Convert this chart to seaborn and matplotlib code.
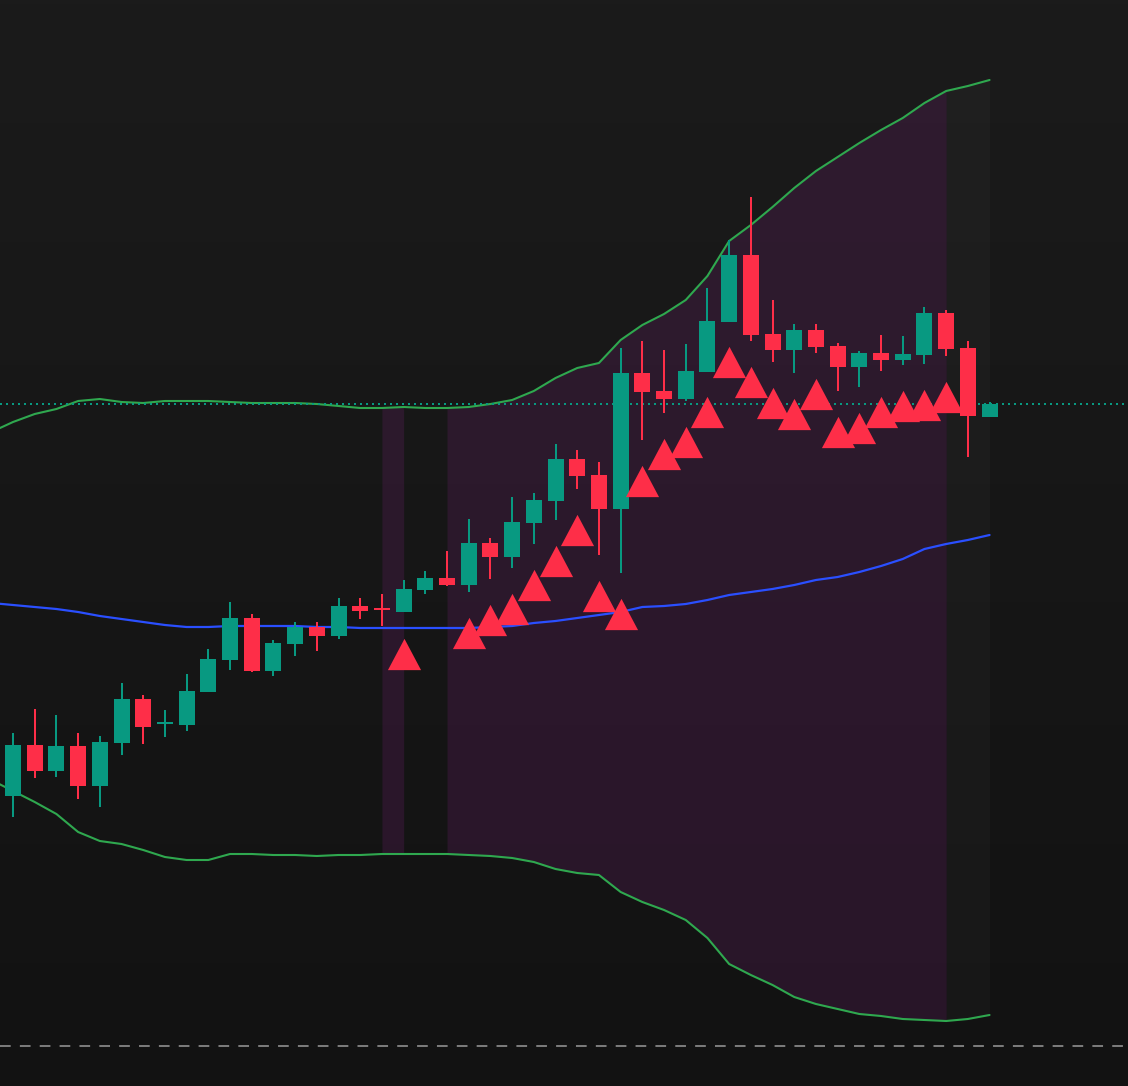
import numpy as np
import pandas as pd
import matplotlib
matplotlib.use("Agg")
import matplotlib.pyplot as plt
import seaborn as sns
from matplotlib.colors import LinearSegmentedColormap
from matplotlib.path import Path

# ---------------- data ----------------
candle_idx = list(range(46))
opens = [29.0, 34.1, 31.5, 34.0, 30.0, 34.3, 38.7, 36.2, 36.1, 39.4,
         42.6, 46.8, 41.5, 44.2, 45.9, 45.0, 48.0, 47.7, 47.4, 49.6,
         50.8, 50.1, 54.3, 52.9, 56.3, 58.5, 62.7, 61.1, 57.7, 71.3,
         69.5, 68.7, 71.4, 76.4, 83.1, 75.2, 73.6, 75.6, 74.0, 71.9,
         73.3, 72.6, 73.1, 77.3, 73.8, 66.9]
highs = [35.3, 37.7, 37.1, 35.3, 35.0, 40.3, 39.1, 37.6, 41.2, 43.7,
         48.4, 47.2, 44.6, 46.4, 46.4, 48.8, 48.8, 49.2, 50.6, 51.5,
         53.5, 56.7, 54.8, 58.9, 59.3, 64.2, 63.6, 62.4, 73.8, 74.5,
         73.6, 74.2, 79.8, 84.6, 88.9, 78.6, 76.2, 76.2, 74.3, 73.5,
         75.1, 75.0, 77.9, 77.6, 74.5, 68.4]
lows = [26.9, 30.8, 30.9, 28.7, 27.9, 33.1, 34.2, 34.9, 35.5, 39.4,
        41.6, 41.4, 41.0, 43.0, 43.5, 44.7, 46.7, 46.0, 47.4, 49.2,
        50.0, 49.4, 50.7, 51.8, 54.2, 56.6, 59.7, 53.1, 51.3, 64.6,
        67.3, 68.5, 71.4, 76.4, 74.5, 72.4, 71.3, 73.3, 69.5, 69.9,
        71.5, 72.1, 72.2, 73.0, 62.9, 66.9]
closes = [34.1, 31.5, 34.0, 30.0, 34.4, 38.7, 35.9, 36.3, 39.5, 42.7,
          46.8, 41.5, 44.3, 45.9, 45.0, 48.0, 47.5, 47.6, 49.7, 50.8,
          50.1, 54.3, 52.9, 56.4, 58.6, 62.7, 61.0, 57.7, 71.3, 69.4,
          68.7, 71.5, 76.5, 83.1, 75.1, 73.6, 75.6, 73.9, 71.9, 73.3,
          72.6, 73.2, 77.3, 73.7, 67.0, 68.2]

band_idx = list(range(-1, 46))
upper = [65.4, 66.4, 67.2, 67.7, 68.5, 68.7, 68.4, 68.3, 68.5, 68.5,
         68.5, 68.4, 68.3, 68.3, 68.3, 68.2, 68.0, 67.8, 67.8, 67.9,
         67.8, 67.8, 67.9, 68.2, 68.6, 69.5, 70.8, 71.8, 72.3, 74.6,
         76.1, 77.2, 78.6, 81.0, 84.5, 86.1, 87.9, 89.8, 91.5, 92.9,
         94.3, 95.6, 96.8, 98.3, 99.5, 100.0, 100.6]
middle = [48.3, 48.1, 47.9, 47.7, 47.4, 47.0, 46.7, 46.4, 46.1, 45.9,
          45.9, 46.0, 46.0, 46.0, 46.0, 45.9, 45.9, 45.8, 45.8, 45.8,
          45.8, 45.8, 45.8, 45.9, 46.0, 46.3, 46.5, 46.8, 47.1, 47.4,
          47.9, 48.0, 48.2, 48.6, 49.1, 49.4, 49.7, 50.1, 50.6, 50.9,
          51.4, 52.0, 52.7, 53.7, 54.2, 54.6, 55.1]
lower = [30.6, 29.5, 28.4, 27.2, 25.4, 24.5, 24.2, 23.6, 22.9, 22.6,
         22.6, 23.2, 23.2, 23.1, 23.1, 23.0, 23.1, 23.1, 23.2, 23.2,
         23.2, 23.2, 23.1, 23.0, 22.8, 22.4, 21.7, 21.3, 21.1, 19.4,
         18.4, 17.6, 16.6, 14.8, 12.2, 11.1, 10.1, 8.9, 8.2, 7.7,
         7.2, 7.0, 6.7, 6.6, 6.5, 6.7, 7.1]

signal_idx = [18, 21, 22, 23, 24, 25, 26, 27, 28, 29, 30, 31,
              32, 33, 34, 35, 36, 37, 38, 39, 40, 41, 42, 43]
signal_val = [43.25, 45.3, 46.6, 47.7, 50.1, 52.5, 55.6, 49.0, 47.2, 60.5, 63.2, 64.4,
              67.4, 72.4, 70.4, 68.3, 67.2, 69.2, 65.4, 65.8, 67.4, 68.0, 68.1, 68.9]

purple_zones = [(17, 18), (20, 43)]
neutral_zones = [(43, 45)]
last_close_level = 68.2
base_level = 4.0

# ---------------- style ----------------
UP = "#089981"
DOWN = "#fe2e48"
BAND = "#2fa84f"
MID = "#2a4fff"

sns.set_theme(style="dark", rc={"axes.facecolor": "#161616",
                                "figure.facecolor": "#161616"})

fig = plt.figure(figsize=(11.28, 10.86), dpi=100)
ax = fig.add_axes([0, 0, 1, 1])
ax.set_axis_off()

# background gradient
grad = np.linspace(0, 1, 256).reshape(-1, 1)
cmap = LinearSegmentedColormap.from_list("bg", ["#121212", "#1b1b1b"])
ax.imshow(grad, extent=[0, 1, 0, 1], transform=ax.transAxes, aspect="auto",
          cmap=cmap, origin="lower", zorder=0)

bands = pd.DataFrame({"i": band_idx, "upper": upper, "middle": middle, "lower": lower})
bi = bands["i"].to_numpy()

for a, b in purple_zones:
    m = (bi >= a) & (bi <= b)
    ax.fill_between(bi, bands["lower"], bands["upper"], where=m,
                    color="#842384", alpha=0.2, linewidth=0, zorder=1)
for a, b in neutral_zones:
    m = (bi >= a) & (bi <= b)
    ax.fill_between(bi, bands["lower"], bands["upper"], where=m,
                    color="#ffffff", alpha=0.025, linewidth=0, zorder=1)

sns.lineplot(data=bands, x="i", y="upper", color=BAND, lw=1.5, ax=ax, zorder=2)
sns.lineplot(data=bands, x="i", y="lower", color=BAND, lw=1.5, ax=ax, zorder=2)
sns.lineplot(data=bands, x="i", y="middle", color=MID, lw=1.6, ax=ax, zorder=2)

# reference lines
ax.axhline(last_close_level, color=UP, lw=1.44, linestyle=(0, (1, 2)), zorder=2.5)
ax.axhline(base_level, color="#9a9a9a", lw=1.1, linestyle=(0, (7, 6)), zorder=2.5)

# candles
o = np.array(opens); h = np.array(highs); l = np.array(lows); c = np.array(closes)
cols = [UP if cc >= oo else DOWN for oo, cc in zip(o, c)]
ax.vlines(candle_idx, l, h, colors=cols, lw=1.44, zorder=3)
body_h = np.maximum(np.abs(c - o), 0.2)
body_b = np.minimum(o, c)
ax.bar(candle_idx, body_h, bottom=body_b, width=0.737, color=cols,
       linewidth=0, zorder=4)

# signal triangles
tri = Path([(0, 1), (-1.06, -1), (1.06, -1), (0, 1)],
           [Path.MOVETO, Path.LINETO, Path.LINETO, Path.CLOSEPOLY])
sig = pd.DataFrame({"i": signal_idx, "v": signal_val})
sns.scatterplot(data=sig, x="i", y="v", marker=tri, s=570, color=DOWN,
                linewidth=0, ax=ax, zorder=5, legend=False)

ax.set_xlim(-0.6, 51.38)
ax.set_ylim(0, 108.6)
ax.set_xlabel("")
ax.set_ylabel("")

fig.savefig("out.png", dpi=100, facecolor=fig.get_facecolor())
